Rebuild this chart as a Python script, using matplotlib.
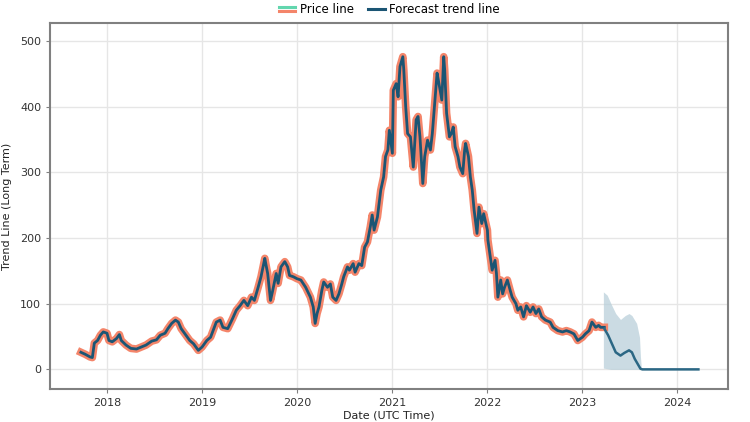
import numpy as np
import pandas as pd
import matplotlib
matplotlib.use("Agg")
import matplotlib.pyplot as plt
from matplotlib.lines import Line2D
from matplotlib.legend_handler import HandlerBase

# price history, decimal year -> value
price_t = [2017.725, 2017.77, 2017.82, 2017.845, 2017.866, 2017.90, 2017.93, 2017.96,
           2018.00, 2018.02, 2018.055, 2018.10, 2018.13, 2018.15, 2018.20, 2018.25,
           2018.31, 2018.36, 2018.41, 2018.47, 2018.52, 2018.56, 2018.61, 2018.64,
           2018.68, 2018.72, 2018.75, 2018.78, 2018.82, 2018.87, 2018.91, 2018.96,
           2019.00, 2019.05, 2019.09, 2019.15, 2019.19, 2019.22, 2019.27, 2019.32,
           2019.36, 2019.40, 2019.44, 2019.48, 2019.52, 2019.55, 2019.59, 2019.62,
           2019.66, 2019.67, 2019.69, 2019.72, 2019.74, 2019.78, 2019.80, 2019.83,
           2019.87, 2019.90, 2019.92, 2019.96, 2020.00, 2020.04, 2020.09, 2020.14,
           2020.17, 2020.19, 2020.21, 2020.23, 2020.26, 2020.28, 2020.32, 2020.35,
           2020.375, 2020.41, 2020.44, 2020.47, 2020.49, 2020.53, 2020.55, 2020.59,
           2020.61, 2020.65, 2020.68, 2020.71, 2020.74, 2020.77, 2020.79, 2020.81,
           2020.845, 2020.88, 2020.91, 2020.93, 2020.955, 2020.97, 2021.00, 2021.01,
           2021.04, 2021.06, 2021.08, 2021.11, 2021.12, 2021.14, 2021.16, 2021.19,
           2021.22, 2021.25, 2021.27, 2021.29, 2021.32, 2021.34, 2021.37, 2021.40,
           2021.42, 2021.45, 2021.47, 2021.49, 2021.52, 2021.54, 2021.55, 2021.57,
           2021.60, 2021.62, 2021.64, 2021.66, 2021.69, 2021.71, 2021.74, 2021.76,
           2021.77, 2021.80, 2021.82, 2021.84, 2021.86, 2021.89, 2021.91, 2021.94,
           2021.96, 2022.00, 2022.005, 2022.03, 2022.05, 2022.08, 2022.095, 2022.11,
           2022.14, 2022.16, 2022.18, 2022.21, 2022.24, 2022.26, 2022.30, 2022.32,
           2022.35, 2022.38, 2022.41, 2022.45, 2022.48, 2022.51, 2022.54, 2022.57,
           2022.61, 2022.66, 2022.69, 2022.74, 2022.79, 2022.83, 2022.87, 2022.91,
           2022.95, 2023.00, 2023.03, 2023.07, 2023.10, 2023.14, 2023.17, 2023.19,
           2023.23]
price_v = [26, 23, 19, 18, 40, 44, 52, 57,
           55, 44, 42, 47, 53, 44, 37, 32,
           31, 34, 37, 43, 45, 52, 55, 62,
           70, 75, 72, 62, 54, 44, 39, 29,
           34, 44, 49, 72, 75, 64, 62, 77,
           90, 97, 105, 97, 110, 105, 125, 141,
           169, 161, 146, 105, 118, 146, 131, 156,
           164, 156, 143, 141, 138, 136, 125, 110,
           95, 70, 85, 95, 120, 133, 125, 130,
           110, 105, 115, 130, 141, 156, 151, 161,
           148, 161, 158, 186, 194, 217, 235, 212,
           232, 273, 293, 324, 334, 364, 329, 425,
           435, 415, 461, 476, 456, 400, 359, 354,
           308, 380, 385, 354, 283, 324, 349, 334,
           359, 415, 451, 435, 410, 476, 456, 390,
           354, 359, 369, 339, 324, 308, 298, 334,
           344, 324, 293, 273, 242, 207, 247, 222,
           237, 212, 197, 171, 151, 166, 146, 110,
           136, 115, 125, 136, 120, 110, 100, 90,
           95, 80, 97, 87, 95, 85, 92, 80,
           75, 72, 64, 59, 57, 59, 57, 54,
           44, 49, 54, 59, 72, 64, 67, 64,
           64]

# forecast trend line
fc_t = [2023.23, 2023.27, 2023.31, 2023.35, 2023.40, 2023.44, 2023.49, 2023.52,
        2023.55, 2023.59, 2023.61, 2023.63, 2024.22]
fc_v = [62, 52, 39, 26, 21, 25, 29, 26, 16, 6, 1, 0, 0]

# forecast uncertainty band
band_t = [2023.22, 2023.26, 2023.30, 2023.35, 2023.40, 2023.45, 2023.49, 2023.52,
          2023.57, 2023.60, 2023.61, 2023.62]
band_hi = [118, 113, 100, 85, 76, 82, 85, 82, 70, 49, 19, 1]
band_lo = [2, 1, 0, 0, 0, 0, 0, 0, 0, 0, 0, 0]


def to_date(years):
    out = []
    for y in years:
        yr = int(np.floor(y))
        out.append(pd.Timestamp(year=yr, month=1, day=1) + pd.Timedelta(days=(y - yr) * 365.25))
    return out


salmon = "#f4856a"
navy = "#1b5574"
mint = "#62d6ae"


class TwoTone(HandlerBase):
    def create_artists(self, legend, orig_handle, xdescent, ydescent, width, height, fontsize, trans):
        x = [-xdescent, -xdescent + width]
        top = Line2D(x, [height * 0.72 - ydescent] * 2, color=mint, lw=2.2, transform=trans)
        bot = Line2D(x, [height * 0.28 - ydescent] * 2, color=salmon, lw=2.2, transform=trans)
        return [top, bot]


fig = plt.figure(figsize=(7.5, 4.22), dpi=100)
ax = fig.add_axes([0.067, 0.078, 0.904, 0.867])

px = to_date(price_t)
ax.plot(px, price_v, color=salmon, lw=5.5, solid_joinstyle="round", zorder=3)
ax.plot(px, price_v, color=navy, lw=2.0, zorder=4)

ax.fill_between(to_date(band_t), band_lo, band_hi, color="#b5cdd8", alpha=0.7, lw=0, zorder=2)
ax.plot(to_date(fc_t), fc_v, color="#2b6784", lw=1.8, zorder=4)

ax.set_xlim(pd.Timestamp("2017-05-28"), pd.Timestamp("2024-07-14"))
ax.set_ylim(-30, 527)
ax.set_yticks([0, 100, 200, 300, 400, 500])
ax.xaxis.set_major_locator(matplotlib.dates.YearLocator())
ax.xaxis.set_major_formatter(matplotlib.dates.DateFormatter("%Y"))

ax.grid(True, color="#e6e6e6", lw=1)
ax.set_axisbelow(True)
for s in ax.spines.values():
    s.set_color("#808080")
    s.set_linewidth(1.5)
ax.tick_params(colors="#808080", labelcolor="#333333", labelsize=8, length=3)
ax.set_xlabel("Date (UTC Time)", fontsize=8, color="#222222", labelpad=2)
ax.set_ylabel("Trend Line (Long Term)", fontsize=8, color="#222222", labelpad=6)

h1 = Line2D([], [], color=salmon)
h2 = Line2D([], [], color=navy, lw=2.2)
ax.legend([h1, h2], ["Price line", "Forecast trend line"], handler_map={h1: TwoTone()},
          loc="lower center", bbox_to_anchor=(0.5, 1.0), ncol=2, frameon=False,
          fontsize=8.5, handlelength=1.4, handletextpad=0.4, columnspacing=1.2,
          borderaxespad=0.2)

fig.savefig("out.png", dpi=100)
